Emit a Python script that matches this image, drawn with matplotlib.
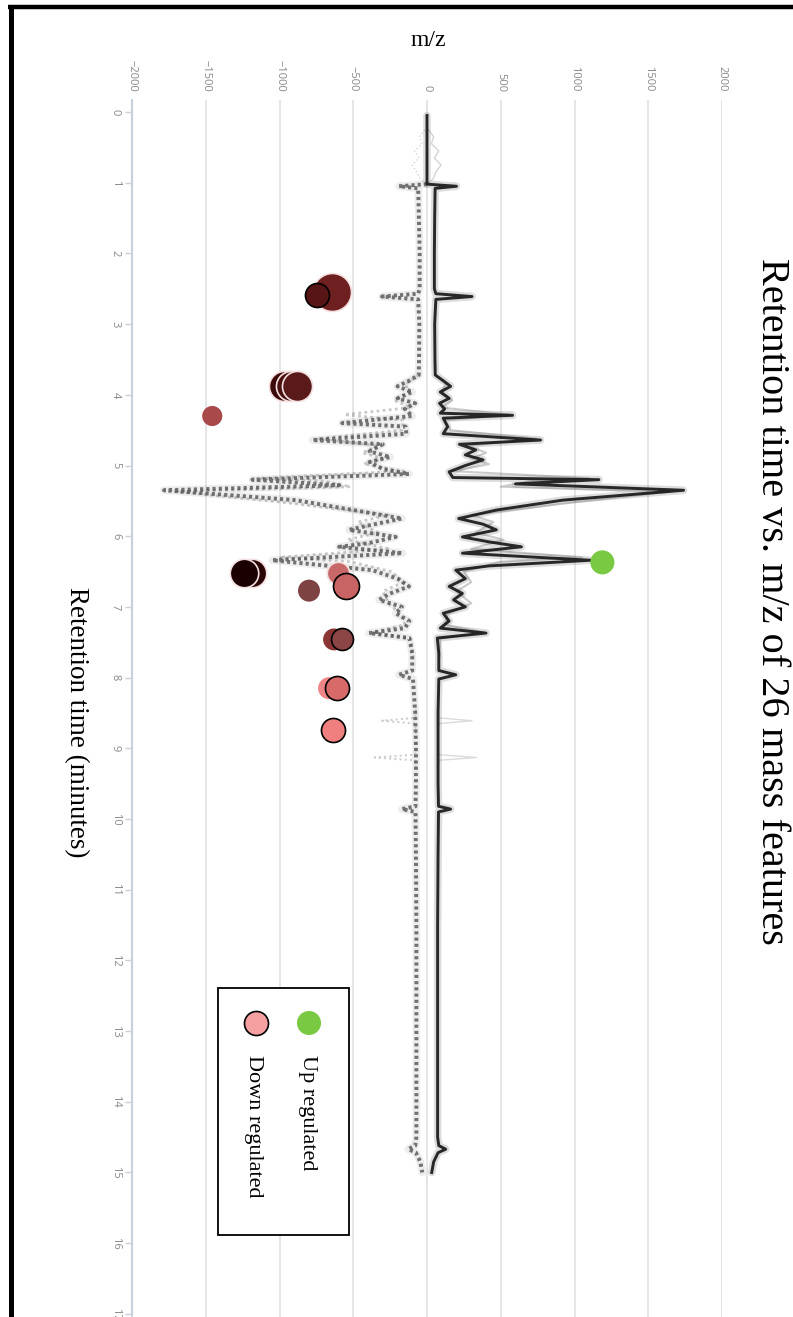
import matplotlib
matplotlib.use("Agg")
import matplotlib.pyplot as plt
from matplotlib.patches import Rectangle

# ---------------- data ----------------
# main chromatogram trace, positive (solid) side: retention time (min) vs m/z offset
pos_t = [0.05, 1.02, 1.05, 1.08, 1.5, 2.0, 2.5, 2.57, 2.61, 2.65, 3.0, 3.5, 3.72, 3.80, 3.88,
         3.96, 4.05, 4.12, 4.20, 4.26, 4.29, 4.33, 4.45, 4.55, 4.64, 4.70, 4.78, 4.85, 4.92,
         5.00, 5.09, 5.17, 5.20, 5.26, 5.35, 5.49, 5.63, 5.75, 5.83, 5.91, 6.01, 6.08, 6.15,
         6.24, 6.34, 6.42, 6.48, 6.60, 6.71, 6.81, 6.90, 7.00, 7.09, 7.20, 7.30, 7.37, 7.44,
         7.66, 7.90, 7.96, 8.02, 8.5, 9.0, 9.5, 9.82, 9.86, 9.90, 10.5, 11.5, 12.5, 13.5,
         14.5, 14.62, 14.67, 14.72, 14.85, 15.0]
pos_v = [0, 0, 200, 55, 52, 50, 50, 60, 305, 60, 52, 54, 56, 110, 160,
         90, 150, 85, 120, 90, 580, 110, 140, 110, 770, 220, 330, 260, 380,
         260, 150, 175, 1165, 600, 1740, 920, 470, 215, 380, 470, 240, 420, 640,
         240, 1110, 420, 195, 260, 150, 240, 180, 260, 110, 150, 90, 400, 70,
         80, 80, 195, 80, 75, 75, 75, 78, 160, 78, 75, 72, 72, 72,
         72, 80, 127, 75, 45, 32]

# mirrored (dotted) side
neg_t = [1.02, 1.05, 1.08, 1.5, 2.0, 2.5, 2.57, 2.61, 2.65, 3.0, 3.5, 3.72, 3.80, 3.88,
         3.96, 4.05, 4.12, 4.20, 4.30, 4.40, 4.45, 4.55, 4.64, 4.70, 4.80, 4.88, 4.95,
         5.05, 5.12, 5.20, 5.28, 5.35, 5.49, 5.63, 5.75, 5.85, 5.91, 6.01, 6.10, 6.15,
         6.24, 6.34, 6.48, 6.60, 6.71, 6.81, 6.90, 7.00, 7.09, 7.20, 7.30, 7.37, 7.44,
         7.66, 7.90, 7.96, 8.02, 8.5, 9.0, 9.5, 9.82, 9.86, 9.90, 10.5, 11.5, 12.5, 13.5,
         14.5, 14.62, 14.67, 14.72, 14.85, 15.0]
neg_v = [0, -190, -60, -55, -50, -50, -60, -305, -60, -52, -54, -56, -120, -200,
         -100, -200, -80, -150, -100, -575, -145, -140, -777, -300, -390, -250, -390,
         -300, -122, -1184, -596, -1783, -890, -500, -169, -400, -529, -212, -400, -596,
         -167, -1049, -371, -200, -122, -250, -325, -170, -212, -120, -150, -393, -120,
         -100, -100, -190, -95, -80, -75, -75, -78, -170, -78, -75, -72, -72, -72,
         -72, -80, -127, -75, -45, -32]

# faint replicate traces in the busy region
rep_t = [3.72, 3.85, 3.95, 4.08, 4.18, 4.28, 4.36, 4.50, 4.62, 4.72, 4.82, 4.90, 4.98,
         5.08, 5.18, 5.22, 5.30, 5.37, 5.52, 5.70, 5.80, 5.95, 6.05, 6.18, 6.30, 6.36,
         6.50, 6.65, 6.78, 6.95, 7.10, 7.25, 7.36, 7.45, 7.70]
rep_pos = [56, 130, 100, 170, 100, 560, 120, 160, 740, 280, 400, 300, 420,
           180, 1100, 700, 500, 1650, 1000, 300, 450, 330, 520, 300, 1050, 500,
           250, 300, 200, 300, 140, 120, 380, 90, 85]
rep_neg = [-56, -150, -120, -220, -110, -560, -160, -170, -740, -330, -440, -300, -430,
           -160, -1120, -700, -520, -1700, -980, -260, -470, -330, -540, -250, -1000, -520,
           -240, -160, -300, -260, -180, -150, -370, -110, -95]

# low-level noise before 1 min
noise_t = [0.25, 0.35, 0.45, 0.55, 0.65, 0.75, 0.85, 0.95, 1.02]
noise_pos = [10, 45, 30, 80, 50, 95, 60, 40, 0]
noise_neg = [-15, -50, -35, -85, -55, -100, -70, -45, 0]

# ghost peaks (very faint)
ghost_t = [8.45, 8.57, 8.61, 8.65, 8.75, 9.00, 9.09, 9.13, 9.17, 9.27]
ghost_pos = [75, 80, 305, 80, 75, 75, 80, 335, 80, 75]
ghost_neg = [-75, -80, -305, -80, -75, -75, -80, -355, -80, -75]

# mass features
down_t = [2.55, 2.59, 3.88, 3.88, 3.88, 4.30, 6.52, 6.52, 6.77, 6.52, 6.71, 7.46, 7.46, 8.15, 8.15, 8.74]
down_mz = [-644, -746, -970, -922, -881, -1456, -1184, -1240, -800, -603, -551, -630, -578, -664, -608, -637]
down_size = [750, 300, 470, 470, 470, 210, 420, 420, 250, 260, 350, 250, 250, 250, 300, 300]
down_color = ['#6e2020', '#581515', '#3d0a0a', '#4a1111', '#5a1a1a', '#a84a4a', '#2a0505', '#1a0000',
              '#7d4343', '#c86868', '#c96464', '#8b3535', '#8c4545', '#f08585', '#d96a6a', '#f08080']
down_edge = ['#f4e0e0', 'black', '#f4e0e0', '#f4e0e0', '#f4e0e0', 'none', '#f4e0e0', '#f4e0e0',
             'none', '#f4e0e0', 'black', 'none', 'black', 'none', 'black', 'black']
up_t = [6.37]
up_mz = [1189]

mz_ticks = [-2000, -1500, -1000, -500, 0, 500, 1000, 1500, 2000]
rt_ticks = list(range(0, 18))

# ---------------- figure ----------------
W, H = 793, 1317
fig = plt.figure(figsize=(W / 100, H / 100), dpi=100)
ax = fig.add_axes([132 / W, 0, 590 / W, (H - 100) / H])
ax.set_xlim(-2000, 2000)
ax.set_ylim(17.044, -0.170)

for xv in mz_ticks:
    ax.axvline(xv, color='#e2e2e2', lw=1.2, zorder=0)

# noise and ghosts
ax.plot(noise_pos, noise_t, color='#aaaaaa', lw=1.0, alpha=0.5, zorder=1)
ax.plot(noise_neg, noise_t, color='#aaaaaa', lw=1.0, alpha=0.5, ls=':', zorder=1)
ax.plot(ghost_pos, ghost_t, color='#cccccc', lw=1.0, alpha=0.7, zorder=1)
ax.plot(ghost_neg, ghost_t, color='#bbbbbb', lw=1.5, ls=(0, (1, 1.5)), alpha=0.7, zorder=1)

# replicate traces
ax.plot(rep_pos, rep_t, color='#555555', lw=1.5, alpha=0.3, zorder=2)
ax.plot(rep_neg, rep_t, color='#666666', lw=2.0, ls=(0, (1, 1.2)), alpha=0.35, zorder=2)

# negative side: dotted rope
ax.plot(neg_v, neg_t, color='#888888', lw=5.5, alpha=0.15, zorder=2, solid_capstyle='round')
ax.plot(neg_v, neg_t, color='#3c3c3c', lw=2.8, ls=(0, (0.8, 0.8)), alpha=0.7, zorder=3)
# positive side: solid
ax.plot(pos_v, pos_t, color='#666666', lw=5.5, alpha=0.22, zorder=3, solid_capstyle='round')
ax.plot(pos_v, pos_t, color='#141414', lw=2.1, alpha=0.9, zorder=4)

# mass features
for i in range(len(down_t)):
    ax.scatter([down_mz[i]], [down_t[i]], s=down_size[i], c=down_color[i],
               edgecolors=down_edge[i], linewidths=1.2, zorder=5 + i * 0.01)
ax.scatter(up_mz, up_t, s=300, c='#7ac943', edgecolors='none', zorder=6)

# axes styling
for s in ['top', 'right', 'bottom']:
    ax.spines[s].set_visible(False)
ax.spines['left'].set_color('#c8d0dc')
ax.spines['left'].set_linewidth(1.5)
ax.xaxis.tick_top()
ax.set_xticks(mz_ticks)
ax.set_xticklabels([str(v).replace('-', '\u2212') for v in mz_ticks], rotation=-90,
                   fontsize=8, color='#888888', family='Open Sans')
ax.tick_params(axis='x', length=0, pad=6)
ax.set_yticks(rt_ticks)
ax.set_yticklabels([str(v) for v in rt_ticks], rotation=-90, fontsize=8,
                   color='#888888', family='Open Sans', va='center')
ax.tick_params(axis='y', length=5, width=1, color='#c8d0dc', pad=3)

serif = ['Liberation Serif', 'DejaVu Serif']
fig.text(428 / W, 1 - 40 / H, 'm/z', ha='center', va='center', fontsize=17, family=serif)
fig.text(771 / W, 1 - 601 / H, 'Retention time vs. m/z of 26 mass features', rotation=-90,
         ha='center', va='center', fontsize=29, family=serif)
fig.text(76 / W, 1 - 722 / H, 'Retention time (minutes)', rotation=-90,
         ha='center', va='center', fontsize=19.5, family=serif)

# overlay for legend and frame
ov = fig.add_axes([0, 0, 1, 1], zorder=10)
ov.set_xlim(0, W)
ov.set_ylim(H, 0)
ov.axis('off')
ov.patch.set_alpha(0)
ov.add_patch(Rectangle((218, 988), 131, 247, facecolor='white', edgecolor='black', lw=1.3))
ov.scatter([309], [1023], s=300, c='#7ac943', edgecolors='none')
ov.scatter([256], [1023], s=300, c='#f4a0a0', edgecolors='black', linewidths=1.2)
ov.text(308, 1055, 'Up regulated', rotation=-90, ha='center', va='top', fontsize=16, family=serif)
ov.text(254, 1055, 'Down regulated', rotation=-90, ha='center', va='top', fontsize=16, family=serif)
ov.plot([8, W], [7, 7], color='black', lw=3.2, solid_capstyle='butt')
ov.plot([11, 11], [5, H], color='black', lw=3.6, solid_capstyle='butt')

fig.savefig('out.png', dpi=100)
